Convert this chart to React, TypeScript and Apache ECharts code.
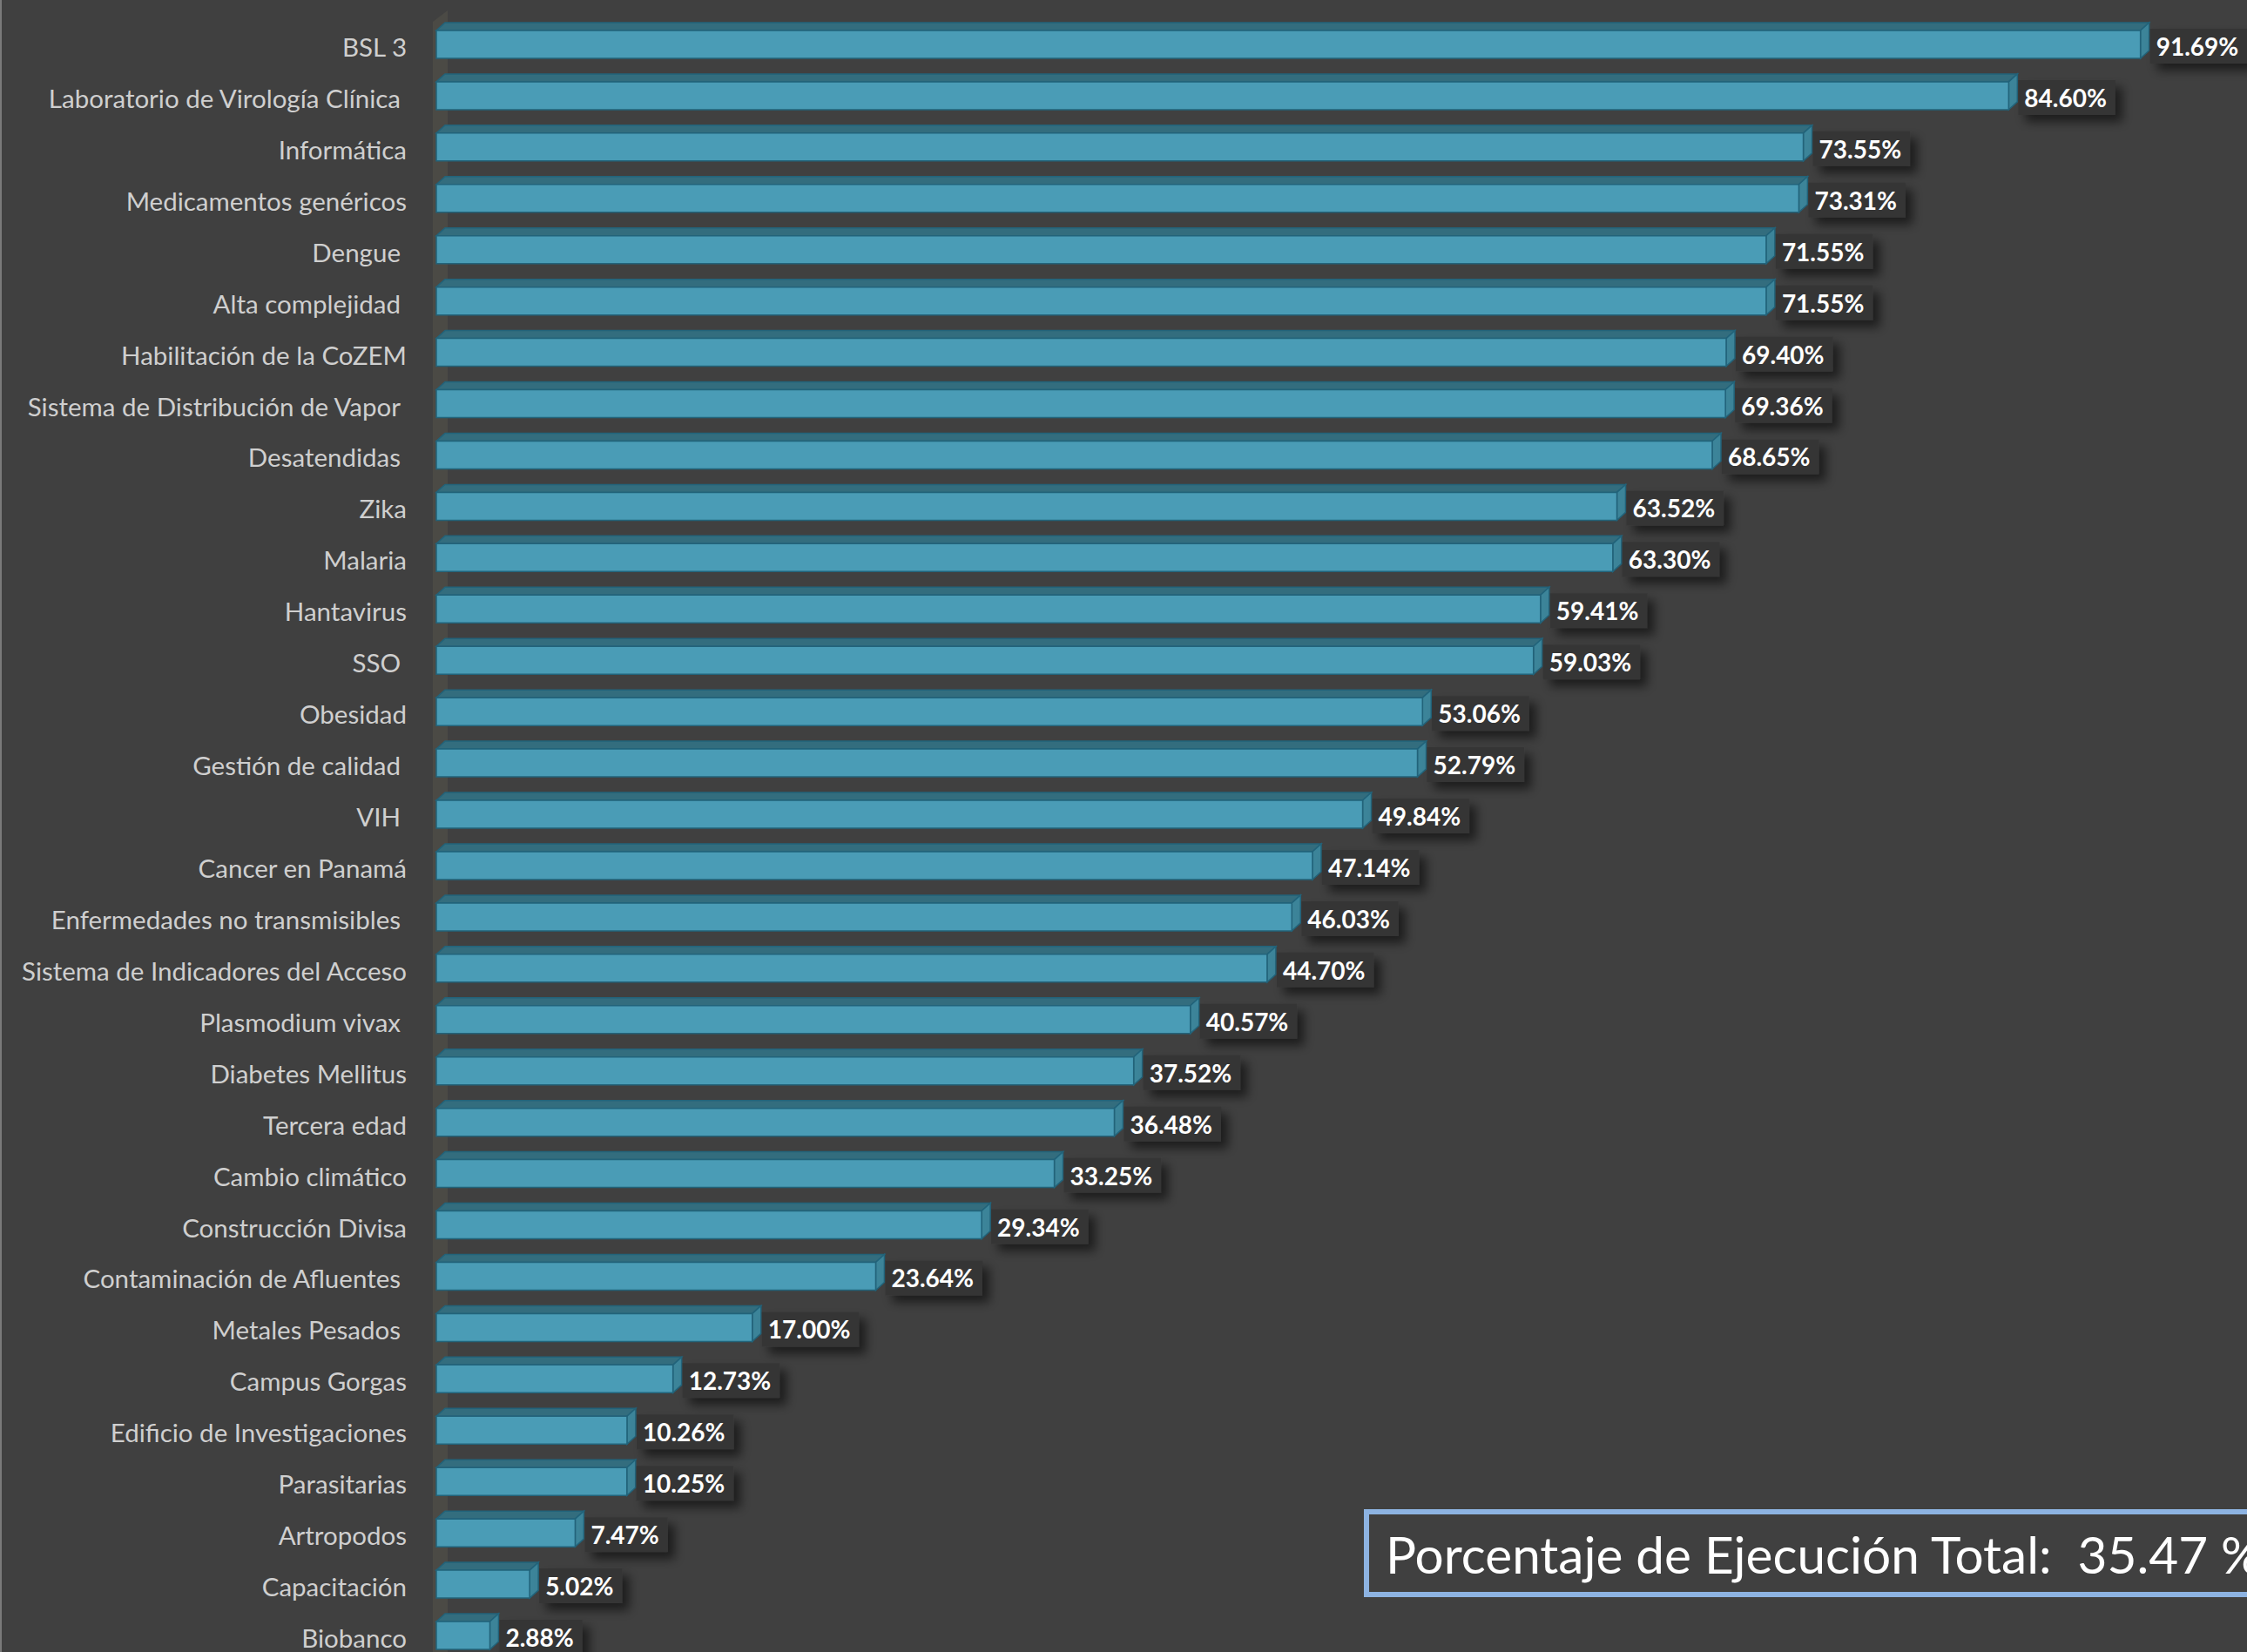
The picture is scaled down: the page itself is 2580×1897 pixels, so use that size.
import React, { useEffect, useRef } from 'react';
import * as echarts from 'echarts';

const categories: string[] = [
  'BSL 3',
  'Laboratorio de Virología Clínica ',
  'Informática',
  'Medicamentos genéricos',
  'Dengue ',
  'Alta complejidad ',
  'Habilitación de la CoZEM',
  'Sistema de Distribución de Vapor ',
  'Desatendidas ',
  'Zika',
  'Malaria',
  'Hantavirus',
  'SSO ',
  'Obesidad',
  'Gestión de calidad ',
  'VIH ',
  'Cancer en Panamá',
  'Enfermedades no transmisibles ',
  'Sistema de Indicadores del Acceso',
  'Plasmodium vivax ',
  'Diabetes Mellitus',
  'Tercera edad',
  'Cambio climático',
  'Construcción Divisa',
  'Contaminación de Afluentes ',
  'Metales Pesados ',
  'Campus Gorgas',
  'Edificio de Investigaciones',
  'Parasitarias',
  'Artropodos',
  'Capacitación',
  'Biobanco',
];

const values: number[] = [
  91.69, 84.6, 73.55, 73.31, 71.55, 71.55, 69.4, 69.36, 68.65, 63.52, 63.3,
  59.41, 59.03, 53.06, 52.79, 49.84, 47.14, 46.03, 44.7, 40.57, 37.52, 36.48,
  33.25, 29.34, 23.64, 17.0, 12.73, 10.26, 10.25, 7.47, 5.02, 2.88,
];

const totalText = 'Porcentaje de Ejecución Total:  35.47 %';

const FRONT = '#4a9cb6';
const TOP = '#336d7e';
const SIDE = '#3c8499';
const EDGE = '#22637a';
const DX = 10;
const DY = 9;
const BAR_H = 32;
const LABEL_FONT = 29.5;

export default function App() {
  const ref = useRef<HTMLDivElement>(null);
  useEffect(() => {
    document.body.style.margin = '0';
    const chart = echarts.init(ref.current!, null, { renderer: 'svg' });
    chart.setOption({
      animation: false,
      backgroundColor: '#404040',
      grid: {
        left: 501,
        top: 21.5,
        height: 1886,
        width: 2134,
        containLabel: false,
        outerBoundsMode: 'none',
      },
      xAxis: { type: 'value', min: 0, max: 100, show: false },
      yAxis: {
        type: 'category',
        data: categories,
        inverse: true,
        axisLine: { show: false },
        axisTick: { show: false },
        splitLine: { show: false },
        axisLabel: {
          margin: 34,
          color: '#cfcfcf',
          fontFamily: 'Lato',
          fontSize: LABEL_FONT,
          formatter: (name: string) =>
            name.endsWith(' ') ? `{p|${name.trim()}}` : `{n|${name}}`,
          rich: {
            p: { padding: [5, 7, 0, 0], color: '#cfcfcf', fontFamily: 'Lato', fontSize: LABEL_FONT },
            n: { padding: [5, 0, 0, 0], color: '#cfcfcf', fontFamily: 'Lato', fontSize: LABEL_FONT },
          },
        },
      },
      graphic: [
        { type: 'rect', shape: { x: 0, y: 0, width: 2, height: 1897 }, style: { fill: '#7a7a7a' }, z: 0 },
        {
          type: 'polygon',
          shape: { points: [[497, 25], [514, 12], [514, 1897], [497, 1897]] },
          style: { fill: '#4b4a45' },
          z: 0,
        },
        {
          type: 'rect',
          shape: { x: 1569, y: 1736, width: 1100, height: 95 },
          style: { fill: 'transparent', stroke: '#8db3e2', lineWidth: 6 },
          z: 10,
        },
        {
          type: 'text',
          x: 1591,
          y: 1784,
          style: {
            text: totalText,
            font: '58.5px Lato',
            fill: '#ffffff',
            verticalAlign: 'middle',
          },
          z: 10,
        },
      ],
      series: [
        {
          type: 'custom',
          data: values.map((v, i) => [v, i]),
          encode: { x: 0, y: 1 },
          renderItem: (params: any, api: any) => {
            const v = api.value(0);
            const idx = api.value(1);
            const s = api.coord([0, idx]);
            const e = api.coord([v, idx]);
            const x0 = s[0];
            const x1 = e[0];
            const yc = e[1];
            const y0 = yc - BAR_H / 2;
            const y1 = yc + BAR_H / 2;
            return {
              type: 'group',
              children: [
                {
                  type: 'polygon',
                  shape: { points: [[x0, y0], [x0 + DX, y0 - DY], [x1 + DX, y0 - DY], [x1, y0]] },
                  style: { fill: TOP, stroke: EDGE, lineWidth: 1.5 },
                },
                {
                  type: 'polygon',
                  shape: { points: [[x1, y0], [x1 + DX, y0 - DY], [x1 + DX, y1 - DY], [x1, y1]] },
                  style: { fill: SIDE, stroke: EDGE, lineWidth: 1.5 },
                },
                {
                  type: 'rect',
                  shape: { x: x0, y: y0, width: x1 - x0, height: BAR_H },
                  style: { fill: FRONT, stroke: EDGE, lineWidth: 1.5 },
                },
                {
                  type: 'text',
                  x: x1 + DX + 1,
                  y: yc + 2,
                  style: {
                    text: v.toFixed(2) + '%',
                    font: 'bold 28px Lato',
                    fill: '#ffffff',
                    verticalAlign: 'middle',
                    lineHeight: 28,
                    backgroundColor: '#363636',
                    padding: [4, 10, 8, 7],
                    shadowBlur: 12,
                    shadowColor: 'rgba(0,0,0,0.55)',
                    shadowOffsetX: 8,
                    shadowOffsetY: 8,
                  },
                },
              ],
            };
          },
        },
      ],
    });
    return () => chart.dispose();
  }, []);
  return (
    <div
      ref={ref}
      style={{ position: 'fixed', left: 0, top: 0, width: 2580, height: 1897 }}
    />
  );
}
